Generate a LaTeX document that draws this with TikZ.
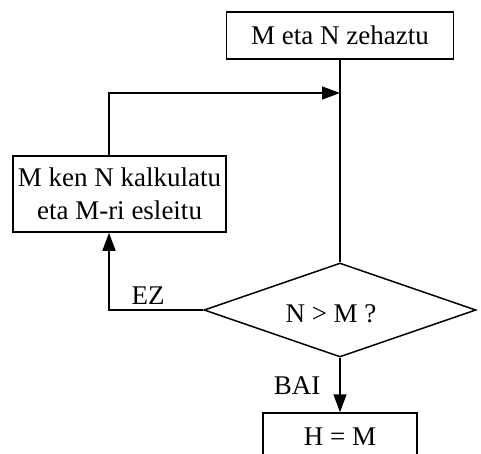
\documentclass[tikz,border=0pt]{standalone}
\usepackage{fontspec}
\setmainfont{Liberation Serif}
\usetikzlibrary{shapes.geometric,arrows.meta}
\begin{document}
\begin{tikzpicture}[x=1pt,y=-1pt,
  every node/.style={font=\fontsize{27}{33}\selectfont, inner sep=0pt},
  box/.style={draw, line width=1.5pt, rectangle, align=center},
  dec/.style={draw, line width=1.5pt, diamond, aspect=2.9},
  conn/.style={line width=1.5pt},
  arr/.style={conn, -{Triangle[length=18pt,width=13pt]}},
  lbl/.style={}]
\useasboundingbox (0,0) rectangle (481,453);
\clip (0,0) rectangle (481,453);
\node[box, minimum width=227pt, minimum height=47pt] (top) at (340,35.5) {M eta N zehaztu};
\node[box, minimum width=213pt, minimum height=76pt] (calc) at (119.5,194) {M ken N kalkulatu\\eta M-ri esleitu};
\node[dec, minimum width=272pt, minimum height=94pt] (q) at (340,310) {};
\node[lbl] (qt) at (331,314) {N > M ?};
\node[box, minimum width=154pt, minimum height=47pt] (h) at (340,436.5) {H = M};
\coordinate (j) at (340,93);
\node[lbl] (ez) at (148,296) {EZ};
\node[lbl] (bai) at (297,386) {BAI};
\draw[conn] (top.south) -- (q.north);
\draw[arr] ([xshift=-10.5pt]calc.north) |- (j);
\draw[arr] (q.west) -| ([xshift=-10.5pt]calc.south);
\draw[arr] (q.south) -- (h.north);
\end{tikzpicture}
\end{document}
